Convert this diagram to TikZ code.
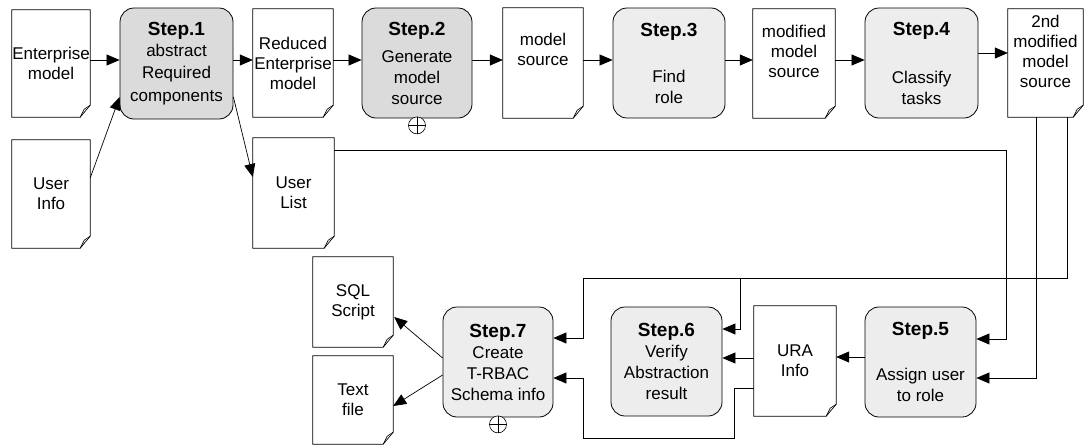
\documentclass[tikz,border=0pt]{standalone}
\usepackage{fontspec}
\setmainfont{Liberation Sans}
\usetikzlibrary{arrows.meta,calc}
\newcommand\stplabel[1]{{\fontsize{19}{21}\selectfont\bfseries Step.#1}}
\newcommand\mydoc[1]{%
  \draw[line width=0.7pt] (#1.north west) -- (#1.north east) -- ([yshift=12pt]#1.south east)
     -- ([xshift=-10pt]#1.south east) -- (#1.south west) -- cycle;
  \draw[line width=0.6pt] ([yshift=12pt]#1.south east) -- ([xshift=-6pt,yshift=8pt]#1.south east)
     -- ([xshift=-10pt]#1.south east);}
\newcommand\myplus[1]{\draw[line width=0.6pt] (#1.north) -- (#1.south) (#1.west) -- (#1.east);}
\begin{document}
\begin{tikzpicture}[x=1pt,y=-1pt,
  stepbox/.style={draw, line width=0.8pt, rounded corners=14pt, align=center, inner sep=0pt,
                  font=\fontsize{17}{21}\selectfont},
  light/.style={stepbox, fill=gray!14},
  dark/.style={stepbox, fill=gray!28},
  doc/.style={align=center, inner sep=0pt, font=\fontsize{17}{20}\selectfont},
  arr/.style={line width=0.7pt, -{Triangle[length=13pt,width=11pt]}},
  conn/.style={line width=0.7pt},
  plus/.style={circle, draw, line width=0.6pt, fill=white, minimum size=17pt, inner sep=0pt}]
\useasboundingbox (0,0) rectangle (1085,445);

% documents
\node[doc, minimum width=78pt, minimum height=107pt] (em) at (51,63.5) {Enterprise\\model};
\node[doc, minimum width=80pt, minimum height=108pt] (rem) at (293,63) {Reduced\\Enterprise\\model};
\node[doc, minimum width=80pt, minimum height=110pt] (ms) at (543,63) {model\\source\\[8pt]};
\node[doc, minimum width=82pt, minimum height=109pt] (mms) at (794,63.5) {modified\\model\\source\\[4pt]};
\node[doc, minimum width=75pt, minimum height=108pt] (smms) at (1045.5,63) {2nd\\modified\\model\\source\\[4pt]};
\node[doc, minimum width=78pt, minimum height=108pt] (ui) at (51,194) {User\\Info};
\node[doc, minimum width=81pt, minimum height=110pt] (ul) at (293.5,193) {User\\List};
\node[doc, minimum width=80pt, minimum height=90pt] (sql) at (353,302) {SQL\\Script};
\node[doc, minimum width=80pt, minimum height=88pt] (tf) at (353,400) {Text\\file};
\node[doc, minimum width=82pt, minimum height=110pt] (ura) at (795,361) {URA\\Info};
\foreach \d in {em,rem,ms,mms,smms,ui,ul,sql,tf,ura} {\mydoc{\d}}

% steps
\node[dark, minimum width=113pt, minimum height=111pt] (s1) at (176.5,63.5)
  {\stplabel{1}\\abstract\\[1pt]Required\\[2pt]components};
\node[dark, minimum width=110pt, minimum height=110pt] (s2) at (417,63)
  {\stplabel{2}\\[6pt]Generate\\model\\source};
\node[light, minimum width=112pt, minimum height=110pt] (s3) at (669,63)
  {\stplabel{3}\\[25pt]Find\\role};
\node[light, minimum width=113pt, minimum height=110pt] (s4) at (921.5,63)
  {\stplabel{4}\\[27pt]Classify\\tasks};
\node[light, minimum width=111pt, minimum height=110pt] (s5) at (920.5,362)
  {\stplabel{5}\\[24pt]Assign user\\to role};
\node[light, minimum width=111pt, minimum height=109pt] (s6) at (666.5,361.5)
  {\stplabel{6}\\Verify\\Abstraction\\result};
\node[light, minimum width=110pt, minimum height=110pt] (s7) at (498,362)
  {\stplabel{7}\\Create\\T-RBAC\\Schema info};

\node[plus] (p2) at ([yshift=-7pt]s2.south) {};
\node[plus] (p7) at ([yshift=-7pt]s7.south) {};
\myplus{p2}
\myplus{p7}

% top row connectors
\coordinate (row) at (0,60);
\coordinate (row4) at (0,53);
\draw[arr] (em.east |- row) -- (s1.west |- row);
\draw[arr] (s1.east |- row) -- (rem.west |- row);
\draw[arr] (rem.east |- row) -- (s2.west |- row);
\draw[arr] (s2.east |- row) -- (ms.west |- row);
\draw[arr] (ms.east |- row) -- (s3.west |- row);
\draw[arr] (s3.east |- row) -- (mms.west |- row);
\draw[arr] (mms.east |- row) -- (s4.west |- row);
\draw[arr] (s4.east |- row4) -- (smms.west |- row4);

% user info / user list
\draw[arr] ([yshift=16pt]ui.east) -- ([yshift=-33.5pt]s1.west);
\draw[arr] ([yshift=-33.5pt]s1.east) -- ([yshift=16pt]ul.west);

% long connectors
\coordinate (c1) at (1006,150);
\draw[arr] (ul.east |- c1) -- (c1) |- ([yshift=23pt]s5.east);
\draw[arr] ([xshift=-9.5pt]smms.south) |- ([yshift=-16pt]s5.east);
\coordinate (c4) at (583,278);
\coordinate (c5) at (740,278);
\draw[arr] ([xshift=21.5pt]smms.south) |- (c4) |- ([yshift=24pt]s7.east);
\draw[arr] (c5) |- ([yshift=32.5pt]s6.east);

% bottom row
\draw[arr] ([yshift=5pt]s5.west) -- ([yshift=5pt]s5.west -| ura.east);
\draw[arr] ([yshift=3pt]ura.west) -- ([yshift=3pt]ura.west -| s6.east);
\coordinate (c6) at (734,438);
\coordinate (c7) at (583,438);
\draw[arr] ([yshift=-27pt]ura.west) -| (c6) -- (c7) |- ([yshift=-16pt]s7.east);
\draw[arr] ([yshift=4pt]s7.west) -- ([xshift=1pt,yshift=-15pt]sql.east);
\draw[arr] ([yshift=-13pt]s7.west) -- ([yshift=-6pt]tf.east);
\end{tikzpicture}
\end{document}
